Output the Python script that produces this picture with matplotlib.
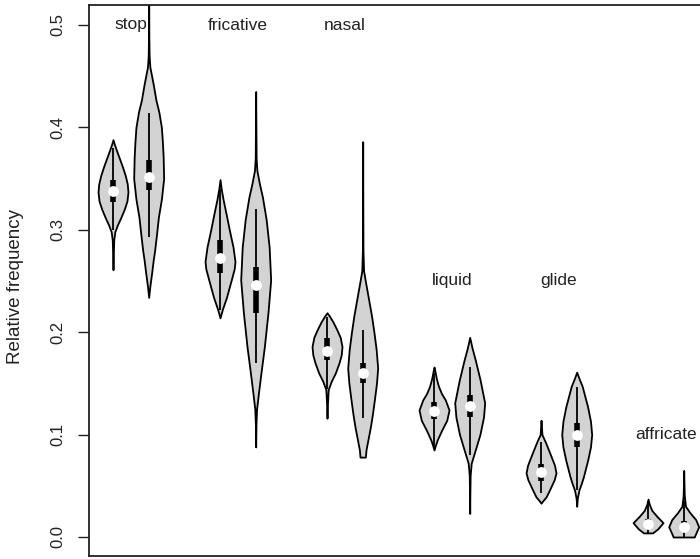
import matplotlib
matplotlib.use('Agg')
import matplotlib.pyplot as plt

plt.rcParams['font.family'] = ['Liberation Sans', 'DejaVu Sans']

# 범주 이름과 라벨 높이
categories = ['stop', 'fricative', 'nasal', 'liquid', 'glide', 'affricate']
label_y = [0.5, 0.5, 0.5, 0.25, 0.25, 0.1]

# 상자 요약값 (violin 12개, 범주마다 2개씩)
medians = [0.338, 0.352, 0.272, 0.246, 0.182, 0.160, 0.123, 0.128, 0.0635, 0.0996, 0.013, 0.010]
q1 = [0.327, 0.339, 0.258, 0.219, 0.173, 0.150, 0.115, 0.117, 0.055, 0.088, 0.008, 0.005]
q3 = [0.349, 0.368, 0.290, 0.264, 0.194, 0.170, 0.132, 0.139, 0.071, 0.111, 0.018, 0.016]
whisk_lo = [0.300, 0.293, 0.222, 0.170, 0.145, 0.116, 0.088, 0.080, 0.043, 0.046, 0.003, 0.000]
whisk_hi = [0.380, 0.414, 0.340, 0.320, 0.215, 0.202, 0.160, 0.166, 0.093, 0.146, 0.035, 0.035]

# 밀도 윤곽 (y 값, 상대 밀도) - 그림에서 읽은 값
stop1_y = [0.261, 0.275, 0.29, 0.298, 0.305, 0.312, 0.32, 0.328, 0.337, 0.345, 0.353, 0.362, 0.37, 0.378, 0.384, 0.388]
stop1_d = [0.0, 0.02, 0.05, 0.12, 0.3, 0.52, 0.75, 0.93, 1.0, 0.95, 0.82, 0.62, 0.42, 0.22, 0.08, 0.0]
stop2_y = [0.234, 0.245, 0.258, 0.27, 0.28, 0.295, 0.3125, 0.33, 0.35, 0.37, 0.385, 0.40, 0.415, 0.427, 0.44, 0.45, 0.459, 0.47, 0.49, 0.53]
stop2_d = [0.0, 0.08, 0.2, 0.3, 0.4, 0.52, 0.65, 0.85, 1.0, 0.97, 0.92, 0.85, 0.68, 0.48, 0.33, 0.2, 0.08, 0.03, 0.01, 0.005]
fric1_y = [0.214, 0.222, 0.234, 0.251, 0.262, 0.269, 0.283, 0.30, 0.316, 0.33, 0.34, 0.349]
fric1_d = [0.0, 0.15, 0.43, 0.75, 0.95, 1.0, 0.87, 0.62, 0.4, 0.2, 0.08, 0.0]
fric2_y = [0.088, 0.11, 0.125, 0.14, 0.16, 0.186, 0.219, 0.251, 0.283, 0.31, 0.332, 0.345, 0.358, 0.37, 0.40, 0.435]
fric2_d = [0.0, 0.02, 0.06, 0.18, 0.35, 0.58, 0.82, 1.0, 0.9, 0.7, 0.45, 0.25, 0.08, 0.03, 0.015, 0.0]
nasal1_y = [0.116, 0.13, 0.144, 0.152, 0.16, 0.17, 0.178, 0.186, 0.195, 0.202, 0.21, 0.216, 0.219]
nasal1_d = [0.0, 0.03, 0.08, 0.28, 0.55, 0.8, 0.95, 1.0, 0.88, 0.67, 0.4, 0.15, 0.0]
nasal2_y = [0.078, 0.085, 0.095, 0.108, 0.12, 0.134, 0.15, 0.165, 0.183, 0.20, 0.215, 0.23, 0.248, 0.26, 0.28, 0.32, 0.386]
nasal2_d = [0.18, 0.22, 0.35, 0.52, 0.65, 0.78, 0.92, 1.0, 0.9, 0.75, 0.6, 0.42, 0.2, 0.06, 0.02, 0.01, 0.0]
liquid1_y = [0.085, 0.09, 0.095, 0.104, 0.114, 0.124, 0.134, 0.14, 0.147, 0.155, 0.162, 0.166]
liquid1_d = [0.0, 0.1, 0.22, 0.5, 0.85, 1.0, 0.75, 0.5, 0.3, 0.15, 0.06, 0.0]
liquid2_y = [0.023, 0.04, 0.06, 0.072, 0.085, 0.10, 0.117, 0.131, 0.153, 0.173, 0.185, 0.195]
liquid2_d = [0.0, 0.01, 0.03, 0.1, 0.37, 0.68, 0.92, 1.0, 0.7, 0.37, 0.15, 0.0]
glide1_y = [0.033, 0.036, 0.039, 0.044, 0.049, 0.056, 0.0625, 0.07, 0.075, 0.085, 0.093, 0.10, 0.114]
glide1_d = [0.0, 0.15, 0.33, 0.5, 0.66, 0.88, 1.0, 0.9, 0.77, 0.5, 0.28, 0.06, 0.0]
glide2_y = [0.03, 0.038, 0.046, 0.052, 0.059, 0.075, 0.088, 0.10, 0.113, 0.127, 0.147, 0.155, 0.161]
glide2_d = [0.0, 0.04, 0.15, 0.3, 0.45, 0.73, 0.92, 1.0, 0.92, 0.73, 0.37, 0.15, 0.0]
affr1_y = [0.004, 0.008, 0.014, 0.02, 0.026, 0.032, 0.037]
affr1_d = [0.3, 0.65, 1.0, 0.6, 0.25, 0.08, 0.0]
affr2_y = [0.0, 0.005, 0.01, 0.017, 0.024, 0.03, 0.04, 0.05, 0.065]
affr2_d = [0.7, 0.85, 1.0, 0.8, 0.4, 0.12, 0.04, 0.02, 0.0]

profiles = [(stop1_y, stop1_d), (stop2_y, stop2_d), (fric1_y, fric1_d), (fric2_y, fric2_d),
            (nasal1_y, nasal1_d), (nasal2_y, nasal2_d), (liquid1_y, liquid1_d), (liquid2_y, liquid2_d),
            (glide1_y, glide1_d), (glide2_y, glide2_d), (affr1_y, affr1_d), (affr2_y, affr2_d)]

# 위치: 범주마다 두 개, 사이에 한 칸 비움
positions = []
for i in range(len(categories)):
    positions += [3 * i + 1, 3 * i + 2]

vpstats = []
for (ys, ds), med in zip(profiles, medians):
    vpstats.append({'coords': ys, 'vals': ds, 'mean': med, 'median': med,
                     'min': ys[0], 'max': ys[-1]})

fig = plt.figure(figsize=(7, 5.59), dpi=100)
unit = 35.67
xmin, xmax = 1 - 24 / unit, 17.8
ax = fig.add_axes([89 / 700, 3 / 559, (xmax - xmin) * unit / 700, 551 / 559])

parts = ax.violin(vpstats, positions=positions, widths=0.84,
                  showmeans=False, showextrema=False, showmedians=False)
for body in parts['bodies']:
    body.set_facecolor('#d3d3d3')
    body.set_edgecolor('black')
    body.set_linewidth(1.3)
    body.set_alpha(1)

ax.vlines(positions, whisk_lo, whisk_hi, color='black', lw=1.3, zorder=3)
ax.vlines(positions, q1, q3, color='black', lw=4, zorder=3)
ax.scatter(positions, medians, s=60, color='white', zorder=4, linewidths=0)

for i, cat in enumerate(categories):
    ax.text(3 * i + 1.5, label_y[i], cat, ha='center', va='center',
            fontsize=12.5, color='#222222')

ax.set_xlim(xmin, xmax)
ax.set_ylim(-19 / 1024, 0.5 + 20 / 1024)
ax.set_xticks([])
ax.set_yticks([0.0, 0.1, 0.2, 0.3, 0.4, 0.5])
ax.set_yticklabels(['0.0', '0.1', '0.2', '0.3', '0.4', '0.5'])
ax.tick_params(axis='y', length=8, width=1, labelsize=12, labelrotation=90,
               pad=9, colors='#222222')
for lab in ax.get_yticklabels():
    lab.set_va('center')
for side in ['left', 'top', 'bottom']:
    ax.spines[side].set_linewidth(1.3)
    ax.spines[side].set_color('#222222')
ax.spines['right'].set_visible(False)

ax.set_ylabel('Relative frequency', fontsize=13.5, color='#222222')
ax.yaxis.set_label_coords((24 - 89) / ((xmax - xmin) * unit), 0.49)

fig.savefig('out.png', dpi=100)
